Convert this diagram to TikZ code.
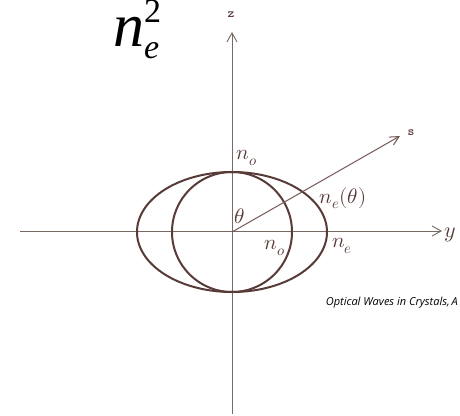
\documentclass[tikz,border=0pt]{standalone}
\usepackage{fontspec}
\usepackage{unicode-math}
\setmathfont{Latin Modern Math}
\usepackage{tikz}
\usetikzlibrary{arrows.meta}
\newfontfamily\capfont{Open Sans}
\newfontfamily\bigfont{Liberation Serif}
\definecolor{curvebrown}{RGB}{88,58,56}
\definecolor{axisgray}{RGB}{120,105,100}

\begin{document}
\begin{tikzpicture}[
  x=1pt, y=1pt,
  axis/.style={draw=axisgray, line width=0.9pt, -{Straight Barb[length=9pt,width=10pt,line width=0.9pt]}},
  curve/.style={draw=curvebrown, line width=2pt},
  ray/.style={draw=curvebrown!85, line width=1pt, -{Straight Barb[length=9pt,width=9pt,line width=1pt]}},
  lbl/.style={font=\fontsize{21}{21}\selectfont, text=curvebrown, inner sep=0pt},
  axlbl/.style={font=\fontsize{13}{13}\selectfont\ttfamily\bfseries, text=curvebrown, inner sep=0pt},
]
\useasboundingbox (-232,-183) rectangle (228,232);

% origin and axis ends
\coordinate (O) at (0,0);
\coordinate (zbot) at (0,-182);
\coordinate (ztop) at (0,200);
\coordinate (yleft) at (-212,1);
\coordinate (yright) at (210,1);
\coordinate (stip) at (168,96);

% axes
\draw[axis] (zbot) -- (ztop);
\draw[axis] (yleft) -- (yright);

% index ellipse and circle
\draw[curve] (O) ellipse (95 and 60);
\draw[curve] (O) circle (60);

% direction s
\draw[ray] (O) -- (stip);

% labels
\node[axlbl] (zlbl) at (-1,217) {z};
\node[axlbl] (slbl) at (179,99) {s};
\node[lbl, font=\fontsize{22}{22}\selectfont] (ylbl) at (218,-3) {$y$};
\node[lbl] (notop) at (15,74) {$n_o$};
\node[lbl] (theta) at (8,16) {$\theta$};
\node[lbl] (netheta) at (111,34) {$n_e(\theta)$};
\node[lbl] (noin) at (43,-16) {$n_o$};
\node[lbl] (nelbl) at (110,-14) {$n_e$};

% big title and caption
\node[inner sep=0pt, anchor=base west, font=\fontsize{62}{62}\bigfont\itshape] (nesq) at (-119,185)
  {n\rlap{\raisebox{-12pt}{\fontsize{34}{34}\selectfont e}}\raisebox{24pt}{\fontsize{34}{34}\selectfont\upshape 2}};
\node[inner sep=0pt, anchor=east, font=\fontsize{11}{11}\capfont\itshape] (cap) at (226,-71) {Optical Waves in Crystals,\,A};
\end{tikzpicture}
\end{document}
